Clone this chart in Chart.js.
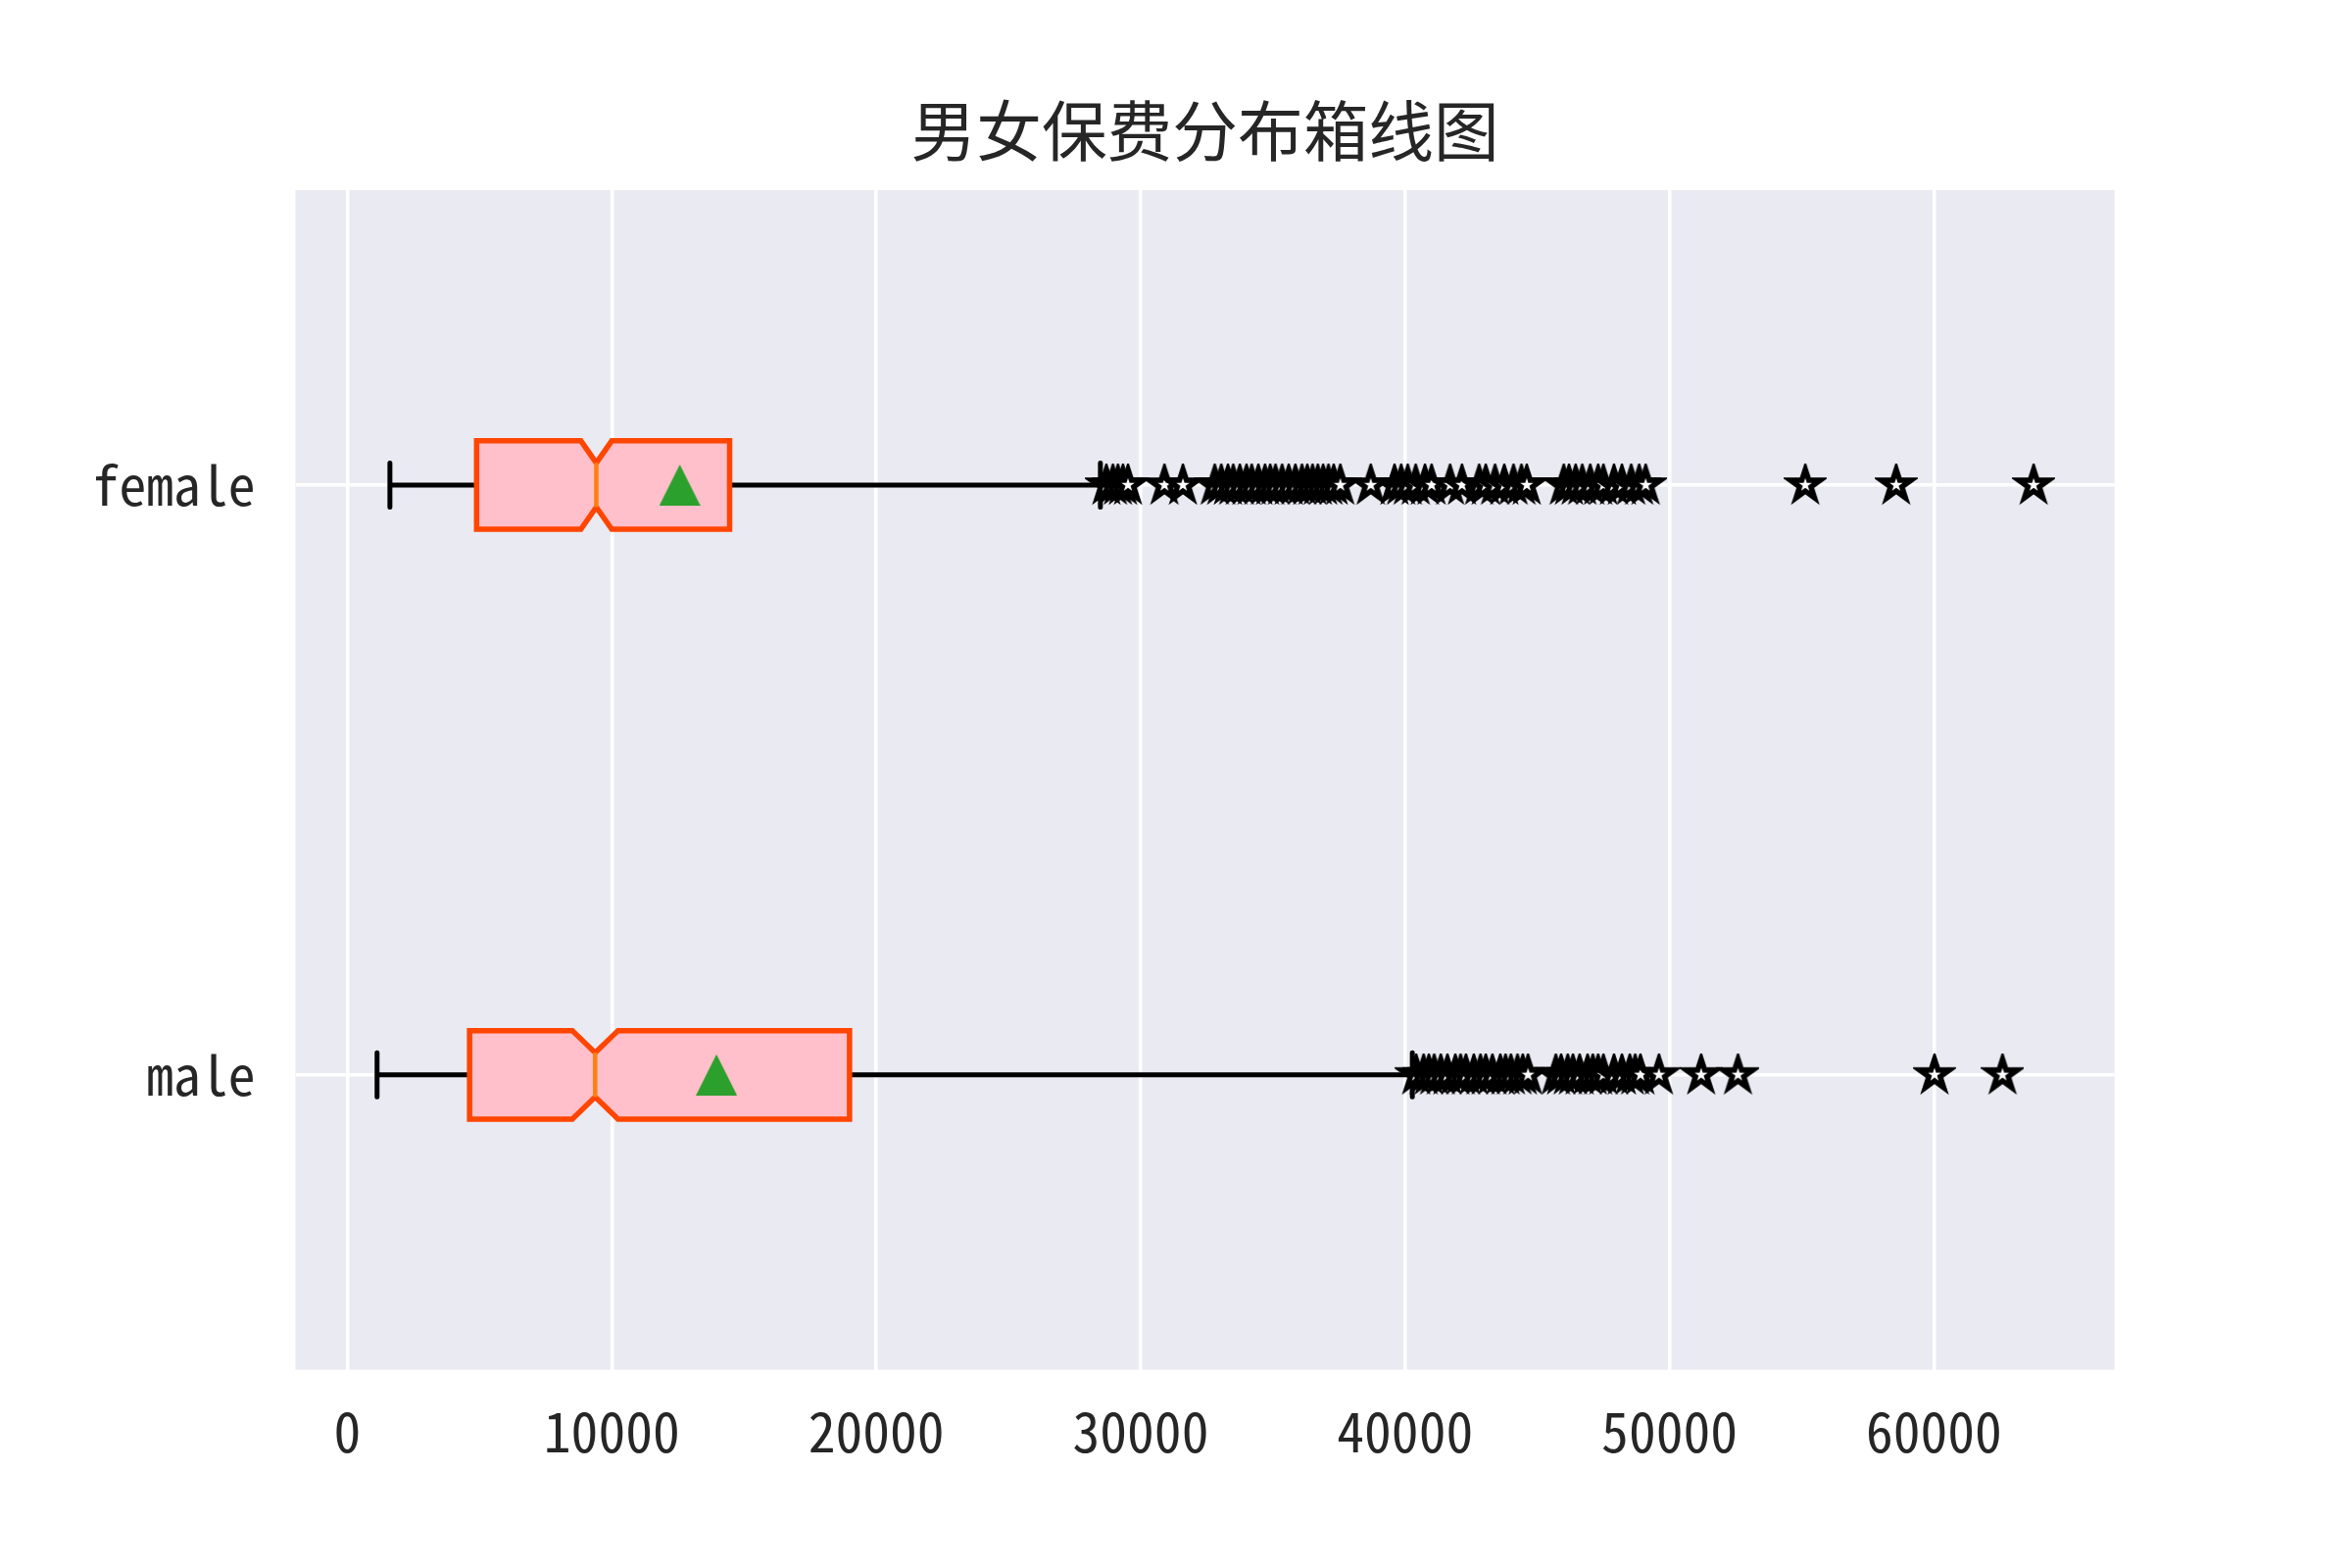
<!DOCTYPE html>
<html>
<head>
<meta charset="utf-8">
<script src="https://cdn.jsdelivr.net/npm/chart.js@4/dist/chart.umd.min.js"></script>
<style>
  html, body { margin: 0; padding: 0; background: #ffffff; }
  canvas { display: block; }
</style>
</head>
<body>
<canvas id="boxChart" width="2400" height="1600"></canvas>
<script>
// --- Data ---
const categories = ['male', 'female'];
const positions = [1, 2];
const whiskerLow = [1121.9, 1607.5];
const q1 = [4620, 4885];
const notchLow = [8505, 8830];
const median = [9370, 9413];
const notchHigh = [10235, 9997];
const q3 = [18990, 14455];
const whiskerHigh = [40274, 28477];
const means = [13957, 12570];

const maleOutliers = [
    40420, 40700, 40900, 41100, 41350, 41600, 41900, 42100, 42300, 42600,
    42850, 43050, 43300, 43600, 43800, 44000, 44250, 44450, 44650,
    45700, 45900, 46150, 46350, 46600, 46900, 47100, 47300, 47500, 47900,
    48200, 48500, 48700, 48900, 49600, 51195, 52590, 60021, 62593
];
const femaleOutliers = [
    28700, 28950, 29140, 29330, 29520, 30900, 31600, 32800, 33050, 33300, 33500,
    33750, 34000, 34200, 34450, 34700, 34900, 35100, 35350, 35600, 35850,
    36100, 36300, 36500, 36700, 36900, 37100, 37300, 37550, 38700, 39600,
    39850, 40100, 40400, 40750, 41000, 41700, 42150, 42800, 43050, 43400,
    43750, 44100, 44400, 44600, 46000, 46200, 46450, 46700, 47000, 47300,
    47500, 47900, 48200, 48550, 48850, 49100, 55135, 58571, 63770
];

const xTicks = [0, 10000, 20000, 30000, 40000, 50000, 60000];

// --- Styles ---
const tickFont = '"Noto Sans Mono CJK SC", "Noto Sans CJK SC", sans-serif';
const textColor = '#262626';
const boxFill = '#ffc0cb';
const boxEdge = '#ff4500';
const medianColor = '#ff7f0e';
const boxHalf = 0.075;

// star marker used for fliers
function makeStar() {
    const c = document.createElement('canvas');
    c.width = 44; c.height = 44;
    const g = c.getContext('2d');
    const R = 16, r = R * 0.381966;
    g.beginPath();
    for (let i = 0; i < 10; i++) {
        const ang = -Math.PI / 2 + i * Math.PI / 5;
        const rad = i % 2 === 0 ? R : r;
        const px = 22 + rad * Math.cos(ang);
        const py = 22 + rad * Math.sin(ang);
        i === 0 ? g.moveTo(px, py) : g.lineTo(px, py);
    }
    g.closePath();
    g.fillStyle = '#ffffff';
    g.fill();
    g.lineWidth = 5.5;
    g.lineJoin = 'miter';
    g.strokeStyle = '#000000';
    g.stroke();
    return c;
}

// triangle marker used for means
function makeTriangle() {
    const c = document.createElement('canvas');
    c.width = 42; c.height = 42;
    const g = c.getContext('2d');
    g.beginPath();
    g.moveTo(21, 0);
    g.lineTo(0, 42);
    g.lineTo(42, 42);
    g.closePath();
    g.fillStyle = '#2ca02c';
    g.fill();
    return c;
}

const starImg = makeStar();
const triImg = makeTriangle();

// --- Plugins ---
const plotBackground = {
    id: 'plotBackground',
    beforeDraw(chart) {
        const { ctx, chartArea: a } = chart;
        ctx.save();
        ctx.fillStyle = '#eaeaf2';
        ctx.fillRect(a.left, a.top, a.right - a.left, a.bottom - a.top);
        ctx.restore();
    }
};

const boxes = {
    id: 'boxes',
    beforeDatasetsDraw(chart) {
        const { ctx } = chart;
        const xs = chart.scales.x, ys = chart.scales.y;
        ctx.save();
        positions.forEach((pos, i) => {
            const X = v => xs.getPixelForValue(v);
            const yc = ys.getPixelForValue(pos);
            const yT = ys.getPixelForValue(pos + boxHalf);
            const yB = ys.getPixelForValue(pos - boxHalf);
            const yTn = ys.getPixelForValue(pos + boxHalf / 2);
            const yBn = ys.getPixelForValue(pos - boxHalf / 2);

            // whiskers
            ctx.strokeStyle = '#000000';
            ctx.lineWidth = 5;
            ctx.lineCap = 'butt';
            ctx.beginPath();
            ctx.moveTo(X(whiskerLow[i]), yc); ctx.lineTo(X(q1[i]), yc);
            ctx.moveTo(X(q3[i]), yc); ctx.lineTo(X(whiskerHigh[i]), yc);
            ctx.stroke();
            // caps
            ctx.lineCap = 'round';
            ctx.beginPath();
            [whiskerLow[i], whiskerHigh[i]].forEach(v => {
                ctx.moveTo(X(v), yTn); ctx.lineTo(X(v), yBn);
            });
            ctx.stroke();

            // notched box
            ctx.beginPath();
            ctx.moveTo(X(q1[i]), yT);
            ctx.lineTo(X(notchLow[i]), yT);
            ctx.lineTo(X(median[i]), yTn);
            ctx.lineTo(X(notchHigh[i]), yT);
            ctx.lineTo(X(q3[i]), yT);
            ctx.lineTo(X(q3[i]), yB);
            ctx.lineTo(X(notchHigh[i]), yB);
            ctx.lineTo(X(median[i]), yBn);
            ctx.lineTo(X(notchLow[i]), yB);
            ctx.lineTo(X(q1[i]), yB);
            ctx.closePath();
            ctx.fillStyle = boxFill;
            ctx.fill();
            ctx.lineJoin = 'miter';
            ctx.lineWidth = 5.5;
            ctx.strokeStyle = boxEdge;
            ctx.stroke();

            // median
            ctx.beginPath();
            ctx.moveTo(X(median[i]), yTn);
            ctx.lineTo(X(median[i]), yBn);
            ctx.lineWidth = 4.5;
            ctx.lineCap = 'butt';
            ctx.strokeStyle = medianColor;
            ctx.stroke();
        });
        ctx.restore();
    }
};

// --- Chart ---
const ctx = document.getElementById('boxChart').getContext('2d');
const boxChart = new Chart(ctx, {
    type: 'scatter',
    data: {
        datasets: [
            {
                label: 'male fliers',
                data: maleOutliers.map(v => ({ x: v, y: positions[0] })),
                pointStyle: starImg
            },
            {
                label: 'female fliers',
                data: femaleOutliers.map(v => ({ x: v, y: positions[1] })),
                pointStyle: starImg
            },
            {
                label: 'means',
                data: means.map((v, i) => ({ x: v, y: positions[i] })),
                pointStyle: triImg
            }
        ]
    },
    options: {
        responsive: false,
        animation: false,
        devicePixelRatio: 1,
        layout: { padding: { left: 0, right: 242.3, top: 0, bottom: 0 } },
        plugins: {
            legend: { display: false },
            tooltip: { enabled: false },
            title: {
                display: true,
                text: '男女保费分布箱线图',
                fullSize: false,
                color: textColor,
                font: { family: '"Noto Sans CJK SC", sans-serif', size: 66.7, weight: 'normal' },
                padding: { top: 94, bottom: 20 }
            }
        },
        scales: {
            x: {
                type: 'linear',
                min: -1964,
                max: 66830,
                afterBuildTicks: s => { s.ticks = xTicks.map(v => ({ value: v })); },
                afterFit: s => { s.height = 202.3; },
                grid: { color: '#ffffff', lineWidth: 3.5, drawTicks: false },
                border: { display: false },
                ticks: {
                    color: textColor,
                    padding: 30,
                    maxRotation: 0,
                    font: { family: tickFont, size: 55.6 },
                    callback: v => String(v)
                }
            },
            y: {
                type: 'linear',
                min: 0.5,
                max: 2.5,
                afterBuildTicks: s => { s.ticks = positions.map(v => ({ value: v })); },
                afterFit: s => { s.width = 301.5; },
                grid: { color: '#ffffff', lineWidth: 3.5, drawTicks: false },
                border: { display: false },
                ticks: {
                    color: textColor,
                    padding: 41,
                    font: { family: tickFont, size: 55.6 },
                    callback: v => categories[positions.indexOf(v)]
                }
            }
        }
    },
    plugins: [plotBackground, boxes]
});
</script>
</body>
</html>
